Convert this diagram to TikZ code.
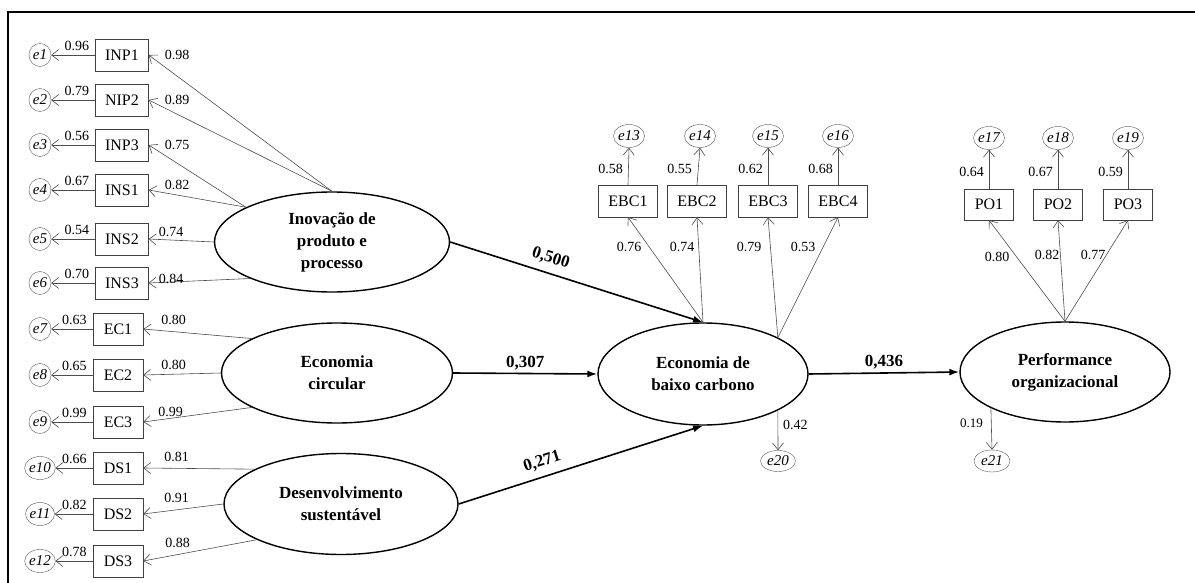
\documentclass[tikz,border=0pt]{standalone}
\usepackage{fontspec}
\setmainfont{Liberation Serif}
\usetikzlibrary{arrows.meta, shapes.geometric}

\tikzset{
    item/.style = {draw=black!75, minimum height=32pt, inner sep=0pt, font=\fontsize{16}{18}\selectfont},
    err/.style = {draw=black!65, ellipse, inner sep=0pt, minimum width=22pt, minimum height=23pt, font=\fontsize{15}{17}\selectfont\itshape},
    latent/.style = {draw, ellipse, line width=1.4pt, inner sep=0pt, align=center, font=\fontsize{17}{22}\selectfont\bfseries},
    load/.style = {draw=black!70, line width=0.6pt, -{Straight Barb[length=7pt, width=11pt]}},
    effect/.style = {draw, line width=1.6pt, -{Latex[length=10pt, width=7pt]}},
    num/.style = {inner sep=1pt, font=\fontsize{14}{16}\selectfont},
    coef/.style = {inner sep=3pt, font=\fontsize{17}{19}\selectfont\bfseries}
}

\begin{document}
\begin{tikzpicture}[x=1pt, y=-1pt]
    \useasboundingbox (0,0) rectangle (1195,583);
    \draw[line width=1.2pt] (8,583) -- (8,12) -- (1195,12);

    % latent variables
    \node[latent, minimum width=235pt, minimum height=100pt] (inov) at (332,242) {Inovação de\\produto e\\processo};
    \node[latent, minimum width=231pt, minimum height=100pt] (circ) at (337,373) {Economia\\circular};
    \node[latent, minimum width=234pt, minimum height=101pt] (desv) at (341,504) {Desenvolvimento\\sustentável};
    \node[latent, minimum width=210pt, minimum height=102pt] (ebc) at (703,374) {Economia de\\baixo carbono};
    \node[latent, minimum width=210pt, minimum height=100pt] (perf) at (1065,372) {Performance\\organizacional};

    % left indicators
    \foreach \n/\t/\x/\w/\y/\lat/\ev/\ld/\dx/\dy in {
        1/INP1/122/53/55/inov.north/0.96/0.98/15/0,
        2/NIP2/122/53/100/inov.north/0.79/0.89/15/0,
        3/INP3/122/53/145/inov.158/0.56/0.75/15/0,
        4/INS1/122/53/190/inov.158/0.67/0.82/15/-5,
        5/INS2/122/53/239/inov.west/0.54/0.74/9/-7,
        6/INS3/122/53/283/inov.204/0.70/0.84/9/-4,
        7/EC1/118/50/329/circ.158/0.63/0.80/17/-9,
        8/EC2/118/50/375/circ.west/0.65/0.80/17/-10,
        9/EC3/118/50/422/circ.202/0.99/0.99/14/-10,
        10/DS1/118/50/468/desv.158/0.66/0.81/20/-11,
        11/DS2/118/50/514/desv.west/0.82/0.91/20/-16,
        12/DS3/118/50/561/desv.203/0.78/0.88/21/-18} {
        \node[item, minimum width=\w pt] (b\n) at (\x,\y) {\t};
        \node[err] (e\n) at (40,\y) {e\n};
        \draw[load] (b\n.west) -- (e\n.east);
        \draw[load] (\lat) -- (b\n.east);
        \node[num, anchor=south east] at ([shift={(-5,-3)}]b\n.west) {\ev};
        \node[num, anchor=west] at ([shift={(\dx,\dy)}]b\n.east) {\ld};
    }

    % indicators of ebc
    \foreach \n/\x/\ex/\ev/\ld/\lx/\from in {
        13/628/629/0.58/0.76/629/ebc.north,
        14/697/700/0.55/0.74/682/ebc.north,
        15/768/768/0.62/0.79/749/ebc.26,
        16/838/838/0.68/0.53/803/ebc.26} {
        \pgfmathtruncatemacro{\k}{\n-12}
        \node[item, minimum width=59pt] (ebc\k) at (\x,201) {EBC\k};
        \node[err, minimum width=31pt] (e\n) at (\ex,136) {e\n};
        \draw[load] (ebc\k.north) -- (e\n.south);
        \draw[load] (\from) -- (ebc\k.south);
        \node[num, anchor=east] at ([shift={(-4,-16)}]ebc\k.north) {\ev};
        \node[num] at (\lx,247) {\ld};
    }

    % indicators of perf
    \foreach \n/\x/\ev/\ld/\lx/\ly in {
        17/989/0.64/0.80/997/257,
        18/1058/0.67/0.82/1047/255,
        19/1128/0.59/0.77/1093/255} {
        \pgfmathtruncatemacro{\k}{\n-16}
        \node[item, minimum width=49pt, minimum height=31pt] (po\k) at (\x,204.5) {PO\k};
        \node[err, minimum width=31pt] (e\n) at (\x,138) {e\n};
        \draw[load] (po\k.north) -- (e\n.south);
        \draw[load] (perf.north) -- (po\k.south);
        \node[num, anchor=east] at ([shift={(-4,-17)}]po\k.north) {\ev};
        \node[num] at (\lx,\ly) {\ld};
    }

    % residuals
    \node[err, minimum width=35pt, minimum height=21pt] (e20) at (778,461) {e20};
    \draw[load] (ebc.334) -- (e20.north);
    \node[num, anchor=west] at (782,425) {0.42};
    \node[err, minimum width=36pt, minimum height=22pt] (e21) at (992,461) {e21};
    \draw[load] (perf.206) -- (e21.north);
    \node[num, anchor=east, font=\fontsize{13}{15}\selectfont] at (984,423) {0.19};

    % structural paths
    \draw[effect] (inov.east) -- (ebc.north) node[coef, inner sep=7pt, pos=0.38, above, sloped] {0,500};
    \draw[effect] (circ.east) -- (ebc.west) node[coef, midway, above] {0,307};
    \draw[effect] (desv.east) -- (ebc.south) node[coef, inner sep=7pt, pos=0.36, above, sloped] {0,271};
    \draw[effect] (ebc.east) -- (perf.west) node[coef, midway, above] {0,436};
\end{tikzpicture}
\end{document}
